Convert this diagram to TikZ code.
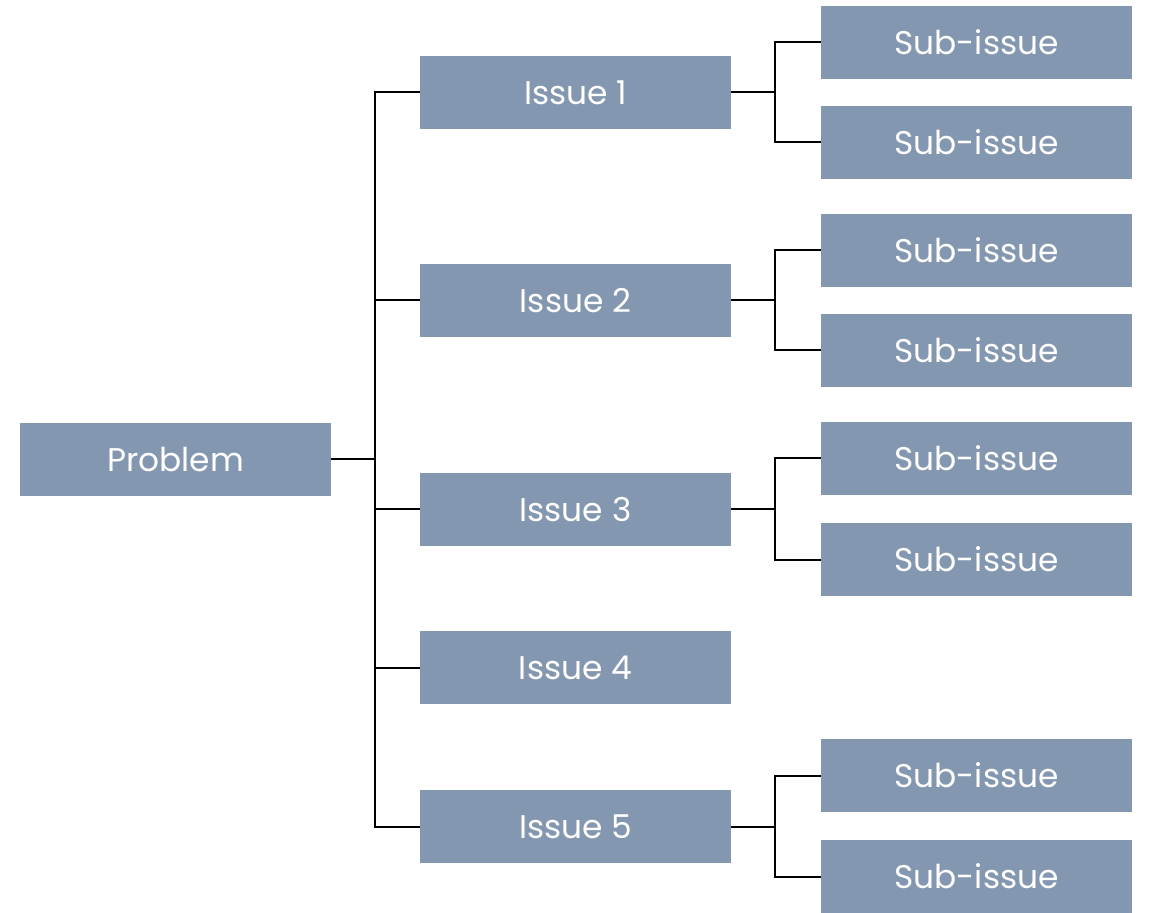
\documentclass[tikz,border=0pt]{standalone}
\usepackage{fontspec}
\setmainfont{Poppins}
\usetikzlibrary{positioning}
\definecolor{boxblue}{RGB}{132,151,176}

\begin{document}
\begin{tikzpicture} [
        x=0.5pt, y=-0.5pt,
        box/.style={rectangle, fill=boxblue, text=white, minimum width=155.5pt,
            minimum height=36.5pt, inner sep=0pt, font=\fontsize{16.4}{20}\selectfont},
        link/.style={draw=black, line width=1pt} ]
    \useasboundingbox (0,0) rectangle (1149,913);
    % the problem and its issues
    \node[box] (prob) at (175.5,459.5) {Problem};
    \node[box] (is1) at (575.5,92.5)  {Issue 1};
    \node[box] (is2) at (575.5,300.5) {Issue 2};
    \node[box] (is3) at (575.5,509.5) {Issue 3};
    \node[box] (is4) at (575.5,667.5) {Issue 4};
    \node[box] (is5) at (575.5,826.5) {Issue 5};
    % sub-issues
    \node[box] (s1a) at (976.5,42.5)  {Sub-issue};
    \node[box] (s1b) at (976.5,142.5) {Sub-issue};
    \node[box] (s2a) at (976.5,250.5) {Sub-issue};
    \node[box] (s2b) at (976.5,350.5) {Sub-issue};
    \node[box] (s3a) at (976.5,458.5) {Sub-issue};
    \node[box] (s3b) at (976.5,559.5) {Sub-issue};
    \node[box] (s5a) at (976.5,775.5) {Sub-issue};
    \node[box] (s5b) at (976.5,876.5) {Sub-issue};
    % branching lines
    \coordinate (pj) at (375,459.5);
    \draw[link] (prob) -- (pj);
    \foreach \i in {is1,is2,is3,is4,is5}
        \draw[link] (pj) |- (\i);
    \foreach \i/\a/\b in {is1/s1a/s1b, is2/s2a/s2b, is3/s3a/s3b, is5/s5a/s5b} {
        \coordinate (\i j) at ([xshift=22pt]\i.east);
        \draw[link] (\i) -- (\i j);
        \draw[link] (\i j) |- (\a);
        \draw[link] (\i j) |- (\b);
    }
\end{tikzpicture}
\end{document}
